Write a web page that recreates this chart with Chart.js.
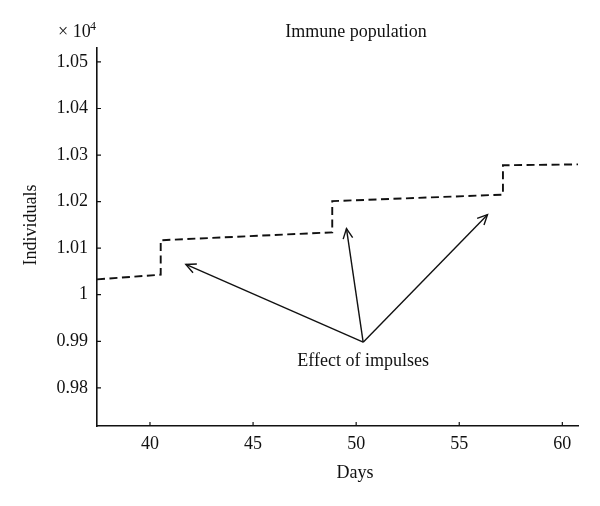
<!DOCTYPE html>
<html>
<head>
<meta charset="utf-8">
<title>Immune population</title>
<script src="https://cdn.jsdelivr.net/npm/chart.js@4.4.1/dist/chart.umd.min.js"></script>
<style>
    html, body { margin: 0; padding: 0; background: #fff; }
    canvas { display: block; }
</style>
</head>
<body>
<canvas id="immuneChart" width="600" height="506"></canvas>
<script>
// Immune population, in units of 10^4 individuals
const days   = [37.43, 40.52, 40.52, 48.84, 48.84, 57.12, 57.12, 60.76];
const immune = [1.0033, 1.0043, 1.0117, 1.0134, 1.0201, 1.0215, 1.0278, 1.0280];

// Arrows pointing at the impulses
const arrowTailDay = 50.34;
const arrowTailValue = 0.9898;
const arrowTipDays = [41.74, 49.53, 56.37];
const arrowTipValues = [1.0065, 1.0142, 1.0172];

// Axes
const xTicks = [40, 45, 50, 55, 60];
const yTicks = [0.98, 0.99, 1, 1.01, 1.02, 1.03, 1.04, 1.05];
const yTickLabels = ['0.98', '0.99', '1', '1.01', '1.02', '1.03', '1.04', '1.05'];
const xMin = 37.43, xMax = 60.76;
const yMin = 0.9718, yMax = 1.0530;

const ink = '#111';
const serif = '"Liberation Serif", "Times New Roman", serif';

const datasets = [{
    label: 'Immune population',
    data: days.map((d, i) => ({ x: d, y: immune[i] })),
    borderColor: ink,
    borderWidth: 1.9,
    borderDash: [8, 4.5],
    showLine: true,
    pointRadius: 0,
    tension: 0
}];

arrowTipDays.forEach((d, i) => {
    datasets.push({
        label: 'arrow' + i,
        isArrow: true,
        data: [{ x: arrowTailDay, y: arrowTailValue }, { x: d, y: arrowTipValues[i] }],
        borderColor: ink,
        borderWidth: 1.4,
        showLine: true,
        pointRadius: 0
    });
});

// Inner ticks, arrow heads and text
const annotations = {
    id: 'annotations',
    afterDatasetsDraw(chart) {
        const { ctx, chartArea, scales: { x, y } } = chart;
        ctx.save();

        ctx.strokeStyle = ink;
        ctx.lineWidth = 1.2;
        ctx.beginPath();
        yTicks.forEach(v => {
            const py = y.getPixelForValue(v);
            ctx.moveTo(chartArea.left, py);
            ctx.lineTo(chartArea.left + 4, py);
        });
        xTicks.forEach(v => {
            const px = x.getPixelForValue(v);
            ctx.moveTo(px, chartArea.bottom);
            ctx.lineTo(px, chartArea.bottom - 4);
        });
        ctx.stroke();

        // open arrow heads
        ctx.lineWidth = 1.4;
        chart.data.datasets.forEach((ds, i) => {
            if (!ds.isArrow) return;
            const pts = chart.getDatasetMeta(i).data;
            const a = pts[0], b = pts[1];
            const ang = Math.atan2(b.y - a.y, b.x - a.x);
            const len = 11, spread = 0.45;
            ctx.beginPath();
            ctx.moveTo(b.x - len * Math.cos(ang - spread), b.y - len * Math.sin(ang - spread));
            ctx.lineTo(b.x, b.y);
            ctx.lineTo(b.x - len * Math.cos(ang + spread), b.y - len * Math.sin(ang + spread));
            ctx.stroke();
        });

        ctx.fillStyle = ink;
        ctx.textBaseline = 'alphabetic';
        ctx.font = '18px ' + serif;

        // label under the arrow tails
        ctx.textAlign = 'center';
        const tx = x.getPixelForValue(arrowTailDay);
        const ty = y.getPixelForValue(arrowTailValue);
        ctx.fillText('Effect of impulses', tx, ty + 24);

        // title and axis titles
        ctx.fillText('Immune population', 356, 37);
        ctx.fillText('Days', 355, 478);

        ctx.save();
        ctx.translate(36, 225);
        ctx.rotate(-Math.PI / 2);
        ctx.fillText('Individuals', 0, 0);
        ctx.restore();

        // exponent marker
        ctx.textAlign = 'left';
        ctx.fillText('\u00d7 10', 58, 37);
        ctx.font = '12px ' + serif;
        ctx.fillText('4', 90, 30);

        ctx.restore();
    }
};

const ctx = document.getElementById('immuneChart').getContext('2d');
const immuneChart = new Chart(ctx, {
    type: 'scatter',
    data: { datasets: datasets },
    options: {
        responsive: false,
        animation: false,
        layout: {
            padding: { top: 48, right: 22, bottom: 0, left: 0 }
        },
        plugins: {
            legend: { display: false },
            tooltip: { enabled: false }
        },
        scales: {
            x: {
                type: 'linear',
                min: xMin,
                max: xMax,
                afterBuildTicks: scale => {
                    scale.ticks = xTicks.map(v => ({ value: v }));
                },
                afterFit: scale => {
                    scale.height = 80;
                },
                grid: { display: false, drawTicks: false },
                border: { display: true, color: ink, width: 1.6 },
                ticks: {
                    color: ink,
                    padding: 7,
                    maxRotation: 0,
                    font: { family: serif, size: 18 }
                }
            },
            y: {
                type: 'linear',
                min: yMin,
                max: yMax,
                afterBuildTicks: scale => {
                    scale.ticks = yTicks.map(v => ({ value: v }));
                },
                afterFit: scale => {
                    scale.width = 97;
                },
                grid: { display: false, drawTicks: false },
                border: { display: true, color: ink, width: 1.6 },
                ticks: {
                    color: ink,
                    padding: 9,
                    font: { family: serif, size: 18 },
                    callback: function(value) {
                        const i = yTicks.findIndex(t => Math.abs(t - value) < 1e-6);
                        return i >= 0 ? yTickLabels[i] : '';
                    }
                }
            }
        }
    },
    plugins: [annotations]
});
</script>
</body>
</html>
